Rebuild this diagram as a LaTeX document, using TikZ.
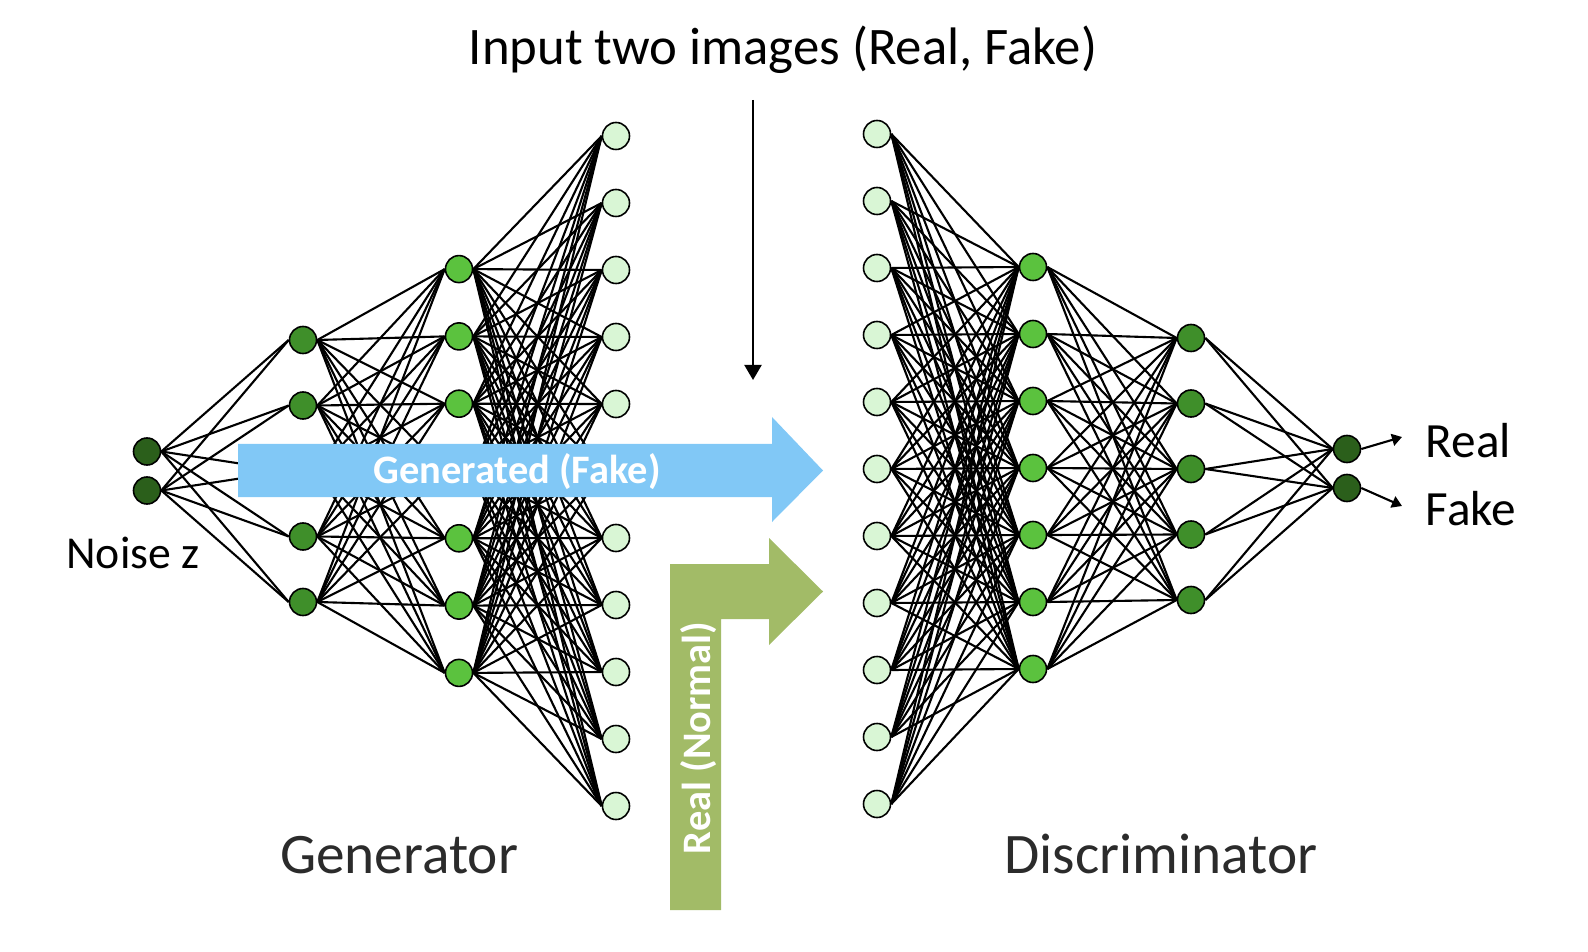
\documentclass[tikz,border=0pt]{standalone}
\usepackage{fontspec}
\setmainfont{Carlito}
\usetikzlibrary{calc, arrows.meta, backgrounds}
\tikzstyle{vx}=[shape=circle, minimum size=2.7mm, inner sep=0, draw=black, line width=.45pt]
\tikzstyle{wire}=[line width=.6pt]
\tikzstyle{lbl}=[inner sep=0, anchor=base]
\definecolor{zdark}{HTML}{2B5F1B}
\definecolor{zmid}{HTML}{3F8F2A}
\definecolor{zlight}{HTML}{5BC23E}
\definecolor{zpale}{HTML}{D9F6D5}
\definecolor{fakeblue}{HTML}{81C8F6}
\definecolor{realgreen}{HTML}{A2BB67}
\definecolor{labelgray}{HTML}{2B2B2B}

\begin{document}
\begin{tikzpicture}[x=.01cm, y=-.01cm]
\useasboundingbox (0,0) rectangle (1588,952);
% generator
\foreach \i in {1,2} {\node at (147,{471+(\i-1.5)*39})[vx, fill=zdark](g0-\i){};}
\foreach \i in {1,...,5} {\node at (303,{471+(\i-3)*65.5})[vx, fill=zmid](g1-\i){};}
\foreach \i in {1,...,7} {\node at (459,{471+(\i-4)*67.3})[vx, fill=zlight](g2-\i){};}
\foreach \i in {1,...,11} {\node at (616,{471+(\i-6)*67})[vx, fill=zpale](g3-\i){};}
% discriminator
\foreach \i in {1,...,11} {\node at (877,{469+(\i-6)*67})[vx, fill=zpale](d0-\i){};}
\foreach \i in {1,...,7} {\node at (1033,{468+(\i-4)*67})[vx, fill=zlight](d1-\i){};}
\foreach \i in {1,...,5} {\node at (1191,{469+(\i-3)*65.5})[vx, fill=zmid](d2-\i){};}
\foreach \i in {1,2} {\node at (1347,{468.5+(\i-1.5)*39})[vx, fill=zdark](d3-\i){};}
\begin{scope}[on background layer]
\foreach \a in {1,2} {\foreach \b in {1,...,5} {\draw[wire] (g0-\a.east)--(g1-\b.west);}}
\foreach \a in {1,...,5} {\foreach \b in {1,...,7} {\draw[wire] (g1-\a.east)--(g2-\b.west);}}
\foreach \a in {1,...,7} {\foreach \b in {1,...,11} {\draw[wire] (g2-\a.east)--(g3-\b.west);}}
\foreach \a in {1,...,11} {\foreach \b in {1,...,7} {\draw[wire] (d0-\a.east)--(d1-\b.west);}}
\foreach \a in {1,...,7} {\foreach \b in {1,...,5} {\draw[wire] (d1-\a.east)--(d2-\b.west);}}
\foreach \a in {1,...,5} {\foreach \b in {1,2} {\draw[wire] (d2-\a.east)--(d3-\b.west);}}
\end{scope}
% big arrows
\fill[fakeblue] (238,444)--(772,444)--(772,417)--(823,470.5)--(772,522)--(772,497)--(238,497)--cycle;
\node[lbl, text=white, font=\fontsize{11.5pt}{14pt}\selectfont\bfseries](gen) at (517,483){Generated (Fake)};
\fill[realgreen] (670,910)--(670,564)--(769,564)--(769,538)--(823,591.5)--(769,645)--(769,619)--(721,619)--(721,910)--cycle;
\node[lbl, rotate=90, text=white, font=\fontsize{11.5pt}{14pt}\selectfont\bfseries](real) at (710,738){Real (Normal)};
% input and output
\node[lbl, font=\fontsize{15pt}{18pt}\selectfont](title) at (783,65){Input two images (Real, Fake)};
\coordinate (in0) at (753,100);
\coordinate (in1) at (753,380);
\draw[line width=.6pt, -{Triangle[length=1.5mm, width=1.7mm]}] (in0)--(in1);
\coordinate (outr) at (1402,437);
\coordinate (outf) at (1402,506);
\draw[line width=.6pt, -{Triangle[length=1mm, width=1.2mm]}] (d3-1.east)--(outr);
\draw[line width=.6pt, -{Triangle[length=1mm, width=1.2mm]}] (d3-2.east)--(outf);
\node[lbl, anchor=base west, font=\fontsize{14pt}{17pt}\selectfont](lreal) at (1425,457){Real};
\node[lbl, anchor=base west, font=\fontsize{14pt}{17pt}\selectfont](lfake) at (1425,525){Fake};
\node[lbl, font=\fontsize{13pt}{16pt}\selectfont](noise) at (133,568){Noise z};
\node[lbl, text=labelgray, font=\fontsize{16.3pt}{20pt}\selectfont](glabel) at (399,873){Generator};
\node[lbl, text=labelgray, font=\fontsize{16.3pt}{20pt}\selectfont](dlabel) at (1161,873){Discriminator};
\end{tikzpicture}
\end{document}
